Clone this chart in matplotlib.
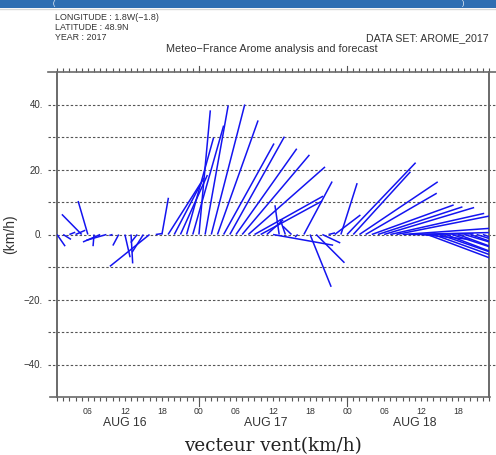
import matplotlib
matplotlib.use("Agg")
import matplotlib.pyplot as plt
from matplotlib.collections import LineCollection
from matplotlib.lines import Line2D
from matplotlib.patches import Rectangle
import matplotlib.transforms as mtransforms
import numpy as np

# hourly wind components (km/h), hours counted from AUG 16 00 UTC
hours = list(range(1, 71))
u_wind = [
    2.5, 2.4, 1.8, 3.0, -6.1, -3.0, -0.3, -5.3, -6.2, -1.0,
    -1.8, 1.6, 0.5, -2.0, -3.5, -12.2, 2.0, 2.0, 10.1, 9.1,
    8.3, 8.3, 9.5, 3.5, 7.1, 10.3, 12.5, 15.5, 16.8, 18.7,
    20.7, 23.6, 21.1, 18.9, 5.0, 18.5, -1.3, -1.6, -2.6, -0.8,
    8.7, 6.5, 8.7, 5.5, 2.0, 7.9, 5.0, 21.1, 17.6, 24.1,
    21.9, 25.2, 26.0, 27.7, 28.9, 28.7, 26.9, 25.0, 18.0, 15.0,
    20.0, 19.5, 19.0, 20.5, 19.0, 20.0, 19.5, 20.0, 19.0, 20.0,
]
v_wind = [
    -3.6, -1.5, 0.7, 1.3, 6.2, 10.3, -3.6, -2.3, -1.8, -0.3,
    -3.4, -7.0, -8.9, -2.5, -5.5, -9.8, 0.3, 11.3, 15.9, 17.4,
    18.3, 29.8, 33.5, 38.2, 39.7, 40.0, 35.1, 28.0, 30.1, 26.4,
    24.5, 20.8, 11.8, 10.3, 4.5, -3.3, 9.0, 4.7, 2.5, -0.8,
    16.3, -16.1, -8.7, -2.6, 0.5, 6.0, 15.8, 22.1, 19.3, 16.2,
    12.7, 9.1, 8.5, 8.3, 6.5, 5.7, 1.9, 0.6, 0.2, -1.5,
    -7.5, -7.0, -6.6, -7.8, -6.2, -7.4, -5.8, -7.0, -6.0, -6.8,
]

grid_levels = [-40, -30, -20, -10, 0, 10, 20, 30, 40]
ytick_values = [-40, -20, 0, 20, 40]
hour_ticks = [6, 12, 18, 24, 30, 36, 42, 48, 54, 60, 66]
hour_labels = ["06", "12", "18", "00", "06", "12", "18", "00", "06", "12", "18"]
day_positions = [12, 34.8, 59]
day_labels = ["AUG 16", "AUG 17", "AUG 18"]
midnights = [24, 48]

W, H = 496, 455
fig = plt.figure(figsize=(W / 100, H / 100), dpi=100)
plt.rcParams["font.family"] = ["Liberation Sans", "DejaVu Sans"]

ax_l, ax_r, ax_t, ax_b = 57, 489, 72, 397
ax = fig.add_axes([ax_l / W, 1 - ax_b / H, (ax_r - ax_l) / W, (ax_b - ax_t) / H])
ax.set_xlim(1, 71)
ax.set_ylim(-50, 50)

# banner strip of the hosting page
fig.patches.append(Rectangle((0, 1 - 7.5 / H), 1, 7.5 / H, transform=fig.transFigure,
                             facecolor="#2f6eb2", edgecolor="none", zorder=0))
fig.lines.append(Line2D([0, 1], [1 - 8.5 / H] * 2, transform=fig.transFigure,
                        color="#d8d8d8", lw=1.0))
fig.text(53 / W, 1 - 3.6 / H, "(", color="white", fontsize=5, va="center", ha="left")
fig.text(462 / W, 1 - 3.6 / H, ")", color="white", fontsize=5, va="center", ha="left")

# stick vectors: x offset uses the same screen scale as the y axis
px_per_kmh = (ax_b - ax_t) / 100.0
px_per_hour = (ax_r - ax_l) / 70.0
k = px_per_kmh / px_per_hour
t = np.array(hours, dtype=float)
u = np.array(u_wind)
v = np.array(v_wind)
segs = [[(ti, 0.0), (ti + ui * k, vi)] for ti, ui, vi in zip(t, u, v)]
ax.add_collection(LineCollection(segs, colors="#1414f0", linewidths=1.1, zorder=3))

# dashed reference lines running past both spines
gtrans = mtransforms.blended_transform_factory(fig.transFigure, ax.transData)
for g in grid_levels:
    ax.add_line(Line2D([48 / W, 1.0], [g, g], transform=gtrans, clip_on=False,
                       color="#555555", lw=0.8, ls=(0, (2.2, 1.8)), zorder=1))

for side in ["left", "right"]:
    ax.spines[side].set_color("#6a6a6a")
    ax.spines[side].set_linewidth(1.4)
for side in ["top", "bottom"]:
    ax.spines[side].set_visible(False)

# horizontal frame lines, slightly longer than the plot area
fig.lines.append(Line2D([48 / W, 1.0], [1 - ax_t / H] * 2, transform=fig.transFigure,
                        color="#6a6a6a", lw=1.2))
fig.lines.append(Line2D([50 / W, 490 / W], [1 - ax_b / H] * 2, transform=fig.transFigure,
                        color="#6a6a6a", lw=1.2))

ax.set_yticks(ytick_values)
ax.set_yticklabels([f"{val:d}." .replace("-", "\u2212") for val in ytick_values])
ax.tick_params(axis="y", length=0, pad=10, labelsize=7, labelcolor="#333333")

ax.set_xticks(hour_ticks)
ax.set_xticklabels(hour_labels)
ax.set_xticks(hours + [71], minor=True)
ax.tick_params(axis="x", which="both", direction="out", length=3, width=0.8,
               color="#555555", top=True, bottom=True)
ax.tick_params(axis="x", which="major", pad=4, labelsize=6.3, labelcolor="#333333")

xtrans = mtransforms.blended_transform_factory(ax.transData, ax.transAxes)
for m in midnights:
    ax.add_line(Line2D([m, m], [0, -8.5 / (ax_b - ax_t)], transform=xtrans,
                       clip_on=False, color="#555555", lw=0.8))
    ax.add_line(Line2D([m, m], [1, 1 + 6.5 / (ax_b - ax_t)], transform=xtrans,
                       clip_on=False, color="#555555", lw=0.8))

for pos, lab in zip(day_positions, day_labels):
    ax.text(pos, -(422.8 - ax_b) / (ax_b - ax_t), lab, transform=xtrans,
            ha="center", va="center", fontsize=8.8, color="#333333")

ax.set_ylabel("(km/h)", fontsize=10, color="#333333")
ax.yaxis.set_label_coords(-(57 - 17) / (ax_r - ax_l), 0.5)

fig.text(55 / W, 1 - 18 / H, "LONGITUDE : 1.8W(\u22121.8)", fontsize=6.4,
         va="center", color="#333333")
fig.text(55 / W, 1 - 27 / H, "LATITUDE : 48.9N", fontsize=6.4,
         va="center", color="#333333")
fig.text(55 / W, 1 - 37 / H, "YEAR : 2017", fontsize=6.4,
         va="center", color="#333333")
fig.text(489 / W, 1 - 38.5 / H, "DATA SET: AROME_2017", fontsize=7.7,
         ha="right", va="center", color="#333333")
fig.text(272 / W, 1 - 49.5 / H, "Meteo\u2212France Arome analysis and forecast",
         fontsize=7.8, ha="center", va="center", color="#333333")
fig.text(273 / W, 1 - 446 / H, "vecteur vent(km/h)", fontsize=13.2,
         family="DejaVu Serif", ha="center", va="center", color="#222222")

fig.savefig("out.png", dpi=100)
